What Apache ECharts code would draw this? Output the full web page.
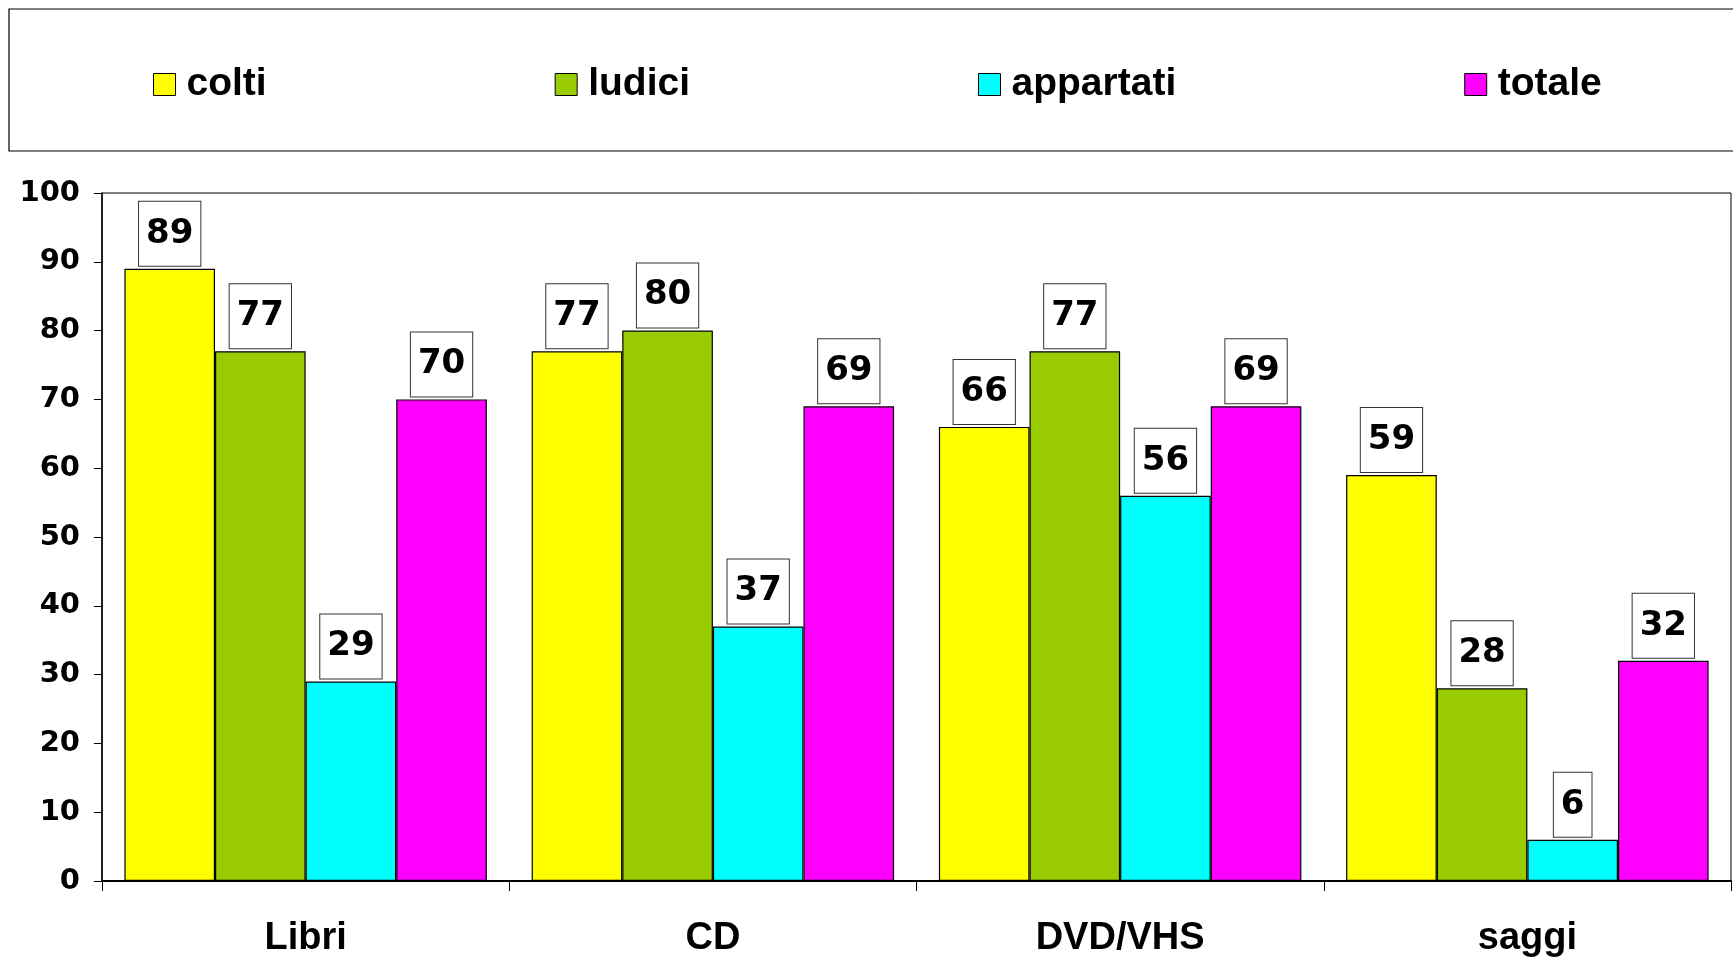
<!doctype html>
<html>
<head>
  <meta charset="utf-8">
  <title>index</title>
  <script src="https://cdn.jsdelivr.net/npm/echarts@6/dist/echarts.min.js"></script>
  <style>
    html, body { margin: 0; padding: 0; background: #fff; }
    #main { width: 1733px; height: 958px; }
  </style>
</head>
<body>
  <div id="main"></div>
  <script>
    // dati
    var categorie = ['Libri', 'CD', 'DVD/VHS', 'saggi'];
    var nomiSerie = ['colti', 'ludici', 'appartati', 'totale'];
    var colti = [89, 77, 66, 59];
    var ludici = [77, 80, 77, 28];
    var appartati = [29, 37, 56, 6];
    var totale = [70, 69, 69, 32];
    var colori = ['#FFFF00', '#99CC00', '#00FFFF', '#FF00FF'];

    var valori = [colti, ludici, appartati, totale];

    var chart = echarts.init(document.getElementById('main'));

    var serie = valori.map(function (v, i) {
      return {
        name: nomiSerie[i],
        type: 'bar',
        data: v,
        barGap: 0,
        barCategoryGap: '11%',
        itemStyle: { color: colori[i], borderColor: '#000', borderWidth: 1.2 },
        label: {
          show: true,
          position: 'top',
          distance: 3,
          color: '#000',
          fontFamily: 'DejaVu Sans',
          fontWeight: 'bold',
          fontSize: 34,
          lineHeight: 34,
          backgroundColor: '#fff',
          borderColor: '#333',
          borderWidth: 1,
          padding: [15, 7, 15, 7]
        }
      };
    });

    chart.setOption({
      animation: false,
      backgroundColor: '#fff',
      graphic: [{
        type: 'rect',
        shape: { x: 9, y: 9, width: 1740, height: 142 },
        style: { fill: 'none', stroke: '#000', lineWidth: 1.2 }
      }],
      legend: {
        left: 153,
        top: 65,
        padding: 0,
        itemGap: 288,
        itemWidth: 22,
        itemHeight: 22,
        icon: 'rect',
        itemStyle: { borderColor: '#000', borderWidth: 1 },
        textStyle: {
          fontFamily: 'Liberation Sans',
          fontWeight: 'bold',
          fontSize: 39,
          color: '#000',
          padding: [0, 0, 0, 6]
        },
        data: nomiSerie
      },
      grid: {
        left: 102,
        right: 2,
        top: 193,
        bottom: 75,
        show: true,
        borderColor: '#000',
        borderWidth: 1
      },
      xAxis: {
        type: 'category',
        data: categorie,
        axisLine: { lineStyle: { color: '#000', width: 2 } },
        axisTick: { show: true, length: 10, lineStyle: { color: '#000', width: 1 } },
        axisLabel: {
          margin: 39,
          color: '#000',
          fontFamily: 'Liberation Sans',
          fontWeight: 'bold',
          fontSize: 38
        }
      },
      yAxis: {
        type: 'value',
        min: 0,
        max: 100,
        interval: 10,
        splitLine: { show: false },
        axisLine: { show: true, lineStyle: { color: '#000', width: 1.5 } },
        axisTick: { show: true, length: 8, lineStyle: { color: '#000', width: 1 } },
        axisLabel: {
          margin: 22,
          color: '#000',
          fontFamily: 'DejaVu Sans',
          fontWeight: 'bold',
          fontSize: 29
        }
      },
      series: serie
    });
  </script>
</body>
</html>
